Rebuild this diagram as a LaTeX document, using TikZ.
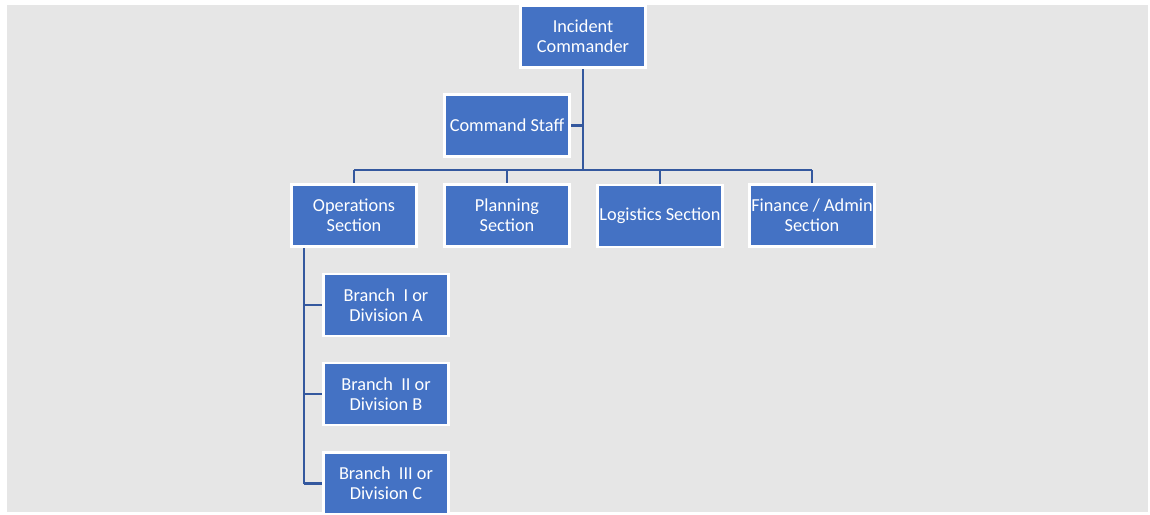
\documentclass[tikz,border=0pt]{standalone}
\usepackage{fontspec}
\setmainfont{Carlito}
\definecolor{boxblue}{RGB}{68,114,196}
\definecolor{linkblue}{RGB}{52,88,158}
\definecolor{canvas}{RGB}{230,230,230}
\pgfdeclarelayer{canvaslayer}
\pgfdeclarelayer{linklayer}
\pgfsetlayers{canvaslayer,linklayer,main}
\begin{document}
\begin{tikzpicture}[x=1pt,y=-1pt,
  unit/.style={draw=white, line width=2.5pt, fill=boxblue, text=white,
    minimum width=125pt, minimum height=62pt, inner sep=1pt,
    align=center, font=\fontsize{18.3}{20}\selectfont},
  link/.style={draw=linkblue, line width=2.8pt}]
\useasboundingbox (0,0) rectangle (1150,514);
\begin{pgfonlayer}{canvaslayer}
  \fill[canvas] (7,5) rectangle (1148,512);
\end{pgfonlayer}

% nodes
\node[unit] (ic)   at (583,36.5)  {Incident\\Commander};
\node[unit] (cs)   at (507,125.5) {Command Staff};
\node[unit] (ops)  at (354,215.5) {Operations\\Section};
\node[unit] (plan) at (507,215.5) {Planning\\Section};
\node[unit] (log)  at (660,216)   {Logistics Section};
\node[unit] (fin)  at (812,215.5) {Finance / Admin\\Section};
\node[unit] (b1)   at (386,305)   {Branch\ \ I or\\Division A};
\node[unit] (b2)   at (386,394)   {Branch\ \ II or\\Division B};
\node[unit] (b3)   at (386,483.5) {Branch\ \ III or\\Division C};

% junction points
\coordinate (bar) at (583,170);
\coordinate (spine) at (304,0);

% connectors, kept under the boxes
\begin{pgfonlayer}{linklayer}
  \draw[link] (ic.south) -- (bar);
  \draw[link] (cs.east) -- (cs.east -| bar);
  \draw[link] (ops.north |- bar) -- (fin.north |- bar);
  \foreach \n in {ops,plan,log,fin} \draw[link] (\n.north |- bar) -- (\n.north);
  \draw[link] (spine |- ops.south) -- (spine |- b3.west);
  \foreach \n in {b1,b2,b3} \draw[link] (spine |- \n.west) -- (\n.west);
\end{pgfonlayer}
\end{tikzpicture}
\end{document}
